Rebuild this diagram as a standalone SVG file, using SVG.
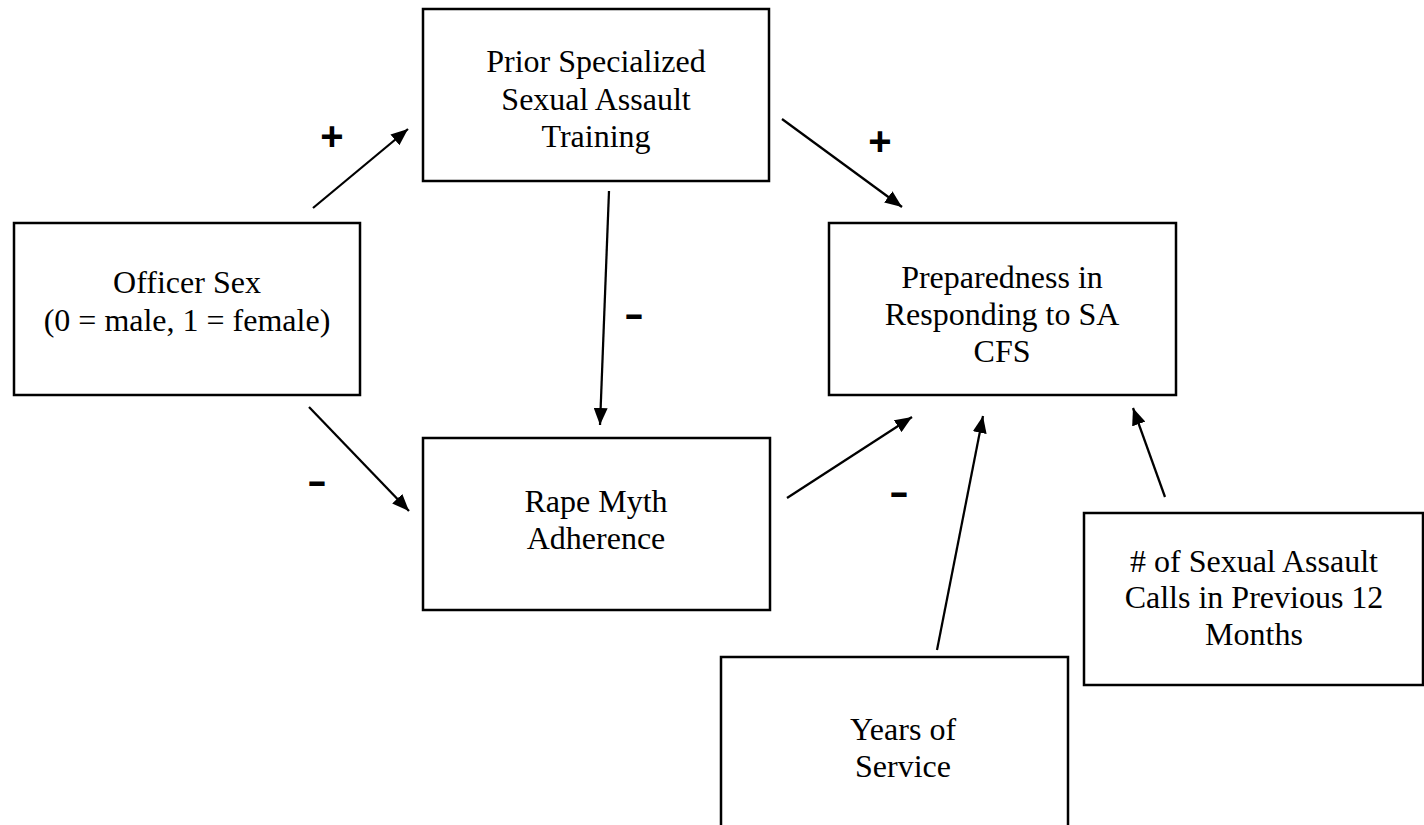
<svg xmlns="http://www.w3.org/2000/svg" width="1424" height="825" viewBox="0 0 1424 825">
<style>
.box{fill:#fff;stroke:#000;stroke-width:2.5}
.lbl{font-family:"Liberation Serif","Times New Roman",serif;font-size:32px;fill:#000;text-anchor:middle}
.sign{font-family:"Liberation Sans",Arial,sans-serif;font-size:36px;font-weight:bold;fill:#000;text-anchor:middle}
.plus{font-size:40px}
.conn{stroke:#000;stroke-width:2.25;fill:none;marker-end:url(#arr)}
</style>
<defs>
<marker id="arr" markerUnits="userSpaceOnUse" markerWidth="18" markerHeight="14" refX="17" refY="7" orient="auto">
<path d="M0,0 L17,7 L0,14 z" fill="#000"/>
</marker>
</defs>
<rect width="1424" height="825" fill="#fff"/>
<g id="prior">
<rect class="box" x="423" y="9" width="346" height="172"/>
<text class="lbl" x="596" y="72">Prior Specialized</text>
<text class="lbl" x="596" y="110">Sexual Assault</text>
<text class="lbl" x="596" y="147">Training</text>
</g>
<g id="officer">
<rect class="box" x="14" y="223" width="346" height="172"/>
<text class="lbl" x="187" y="293">Officer Sex</text>
<text class="lbl" x="187" y="331">(0 = male, 1 = female)</text>
</g>
<g id="prepared">
<rect class="box" x="829" y="223" width="347" height="172"/>
<text class="lbl" x="1002" y="288">Preparedness in</text>
<text class="lbl" x="1002" y="325">Responding to SA</text>
<text class="lbl" x="1002" y="362">CFS</text>
</g>
<g id="rape">
<rect class="box" x="423" y="438" width="347" height="172"/>
<text class="lbl" x="596" y="512">Rape Myth</text>
<text class="lbl" x="596" y="549">Adherence</text>
</g>
<g id="years">
<rect class="box" x="721" y="657" width="347" height="180"/>
<text class="lbl" x="903" y="740">Years of</text>
<text class="lbl" x="903" y="777">Service</text>
</g>
<g id="calls">
<rect class="box" x="1084" y="513" width="339" height="172"/>
<text class="lbl" x="1254" y="572"># of Sexual Assault</text>
<text class="lbl" x="1254" y="608">Calls in Previous 12</text>
<text class="lbl" x="1254" y="645">Months</text>
</g>
<g id="connectors">
<line class="conn" x1="313" y1="208" x2="408" y2="129"/>
<line class="conn" x1="782" y1="119" x2="902" y2="207"/>
<line class="conn" x1="309" y1="407" x2="409" y2="511"/>
<line class="conn" x1="609" y1="191" x2="600" y2="425"/>
<line class="conn" x1="787" y1="498" x2="912" y2="417"/>
<line class="conn" x1="937" y1="650" x2="983" y2="416"/>
<line class="conn" x1="1165" y1="497" x2="1133" y2="408"/>
</g>
<g id="signs">
<text class="sign plus" x="332" y="150">+</text>
<text class="sign plus" x="880" y="155">+</text>
<text class="sign" x="634" y="326" textLength="20" lengthAdjust="spacingAndGlyphs">-</text>
<text class="sign" x="317" y="493" textLength="20" lengthAdjust="spacingAndGlyphs">-</text>
<text class="sign" x="899" y="504" textLength="20" lengthAdjust="spacingAndGlyphs">-</text>
</g>
</svg>
